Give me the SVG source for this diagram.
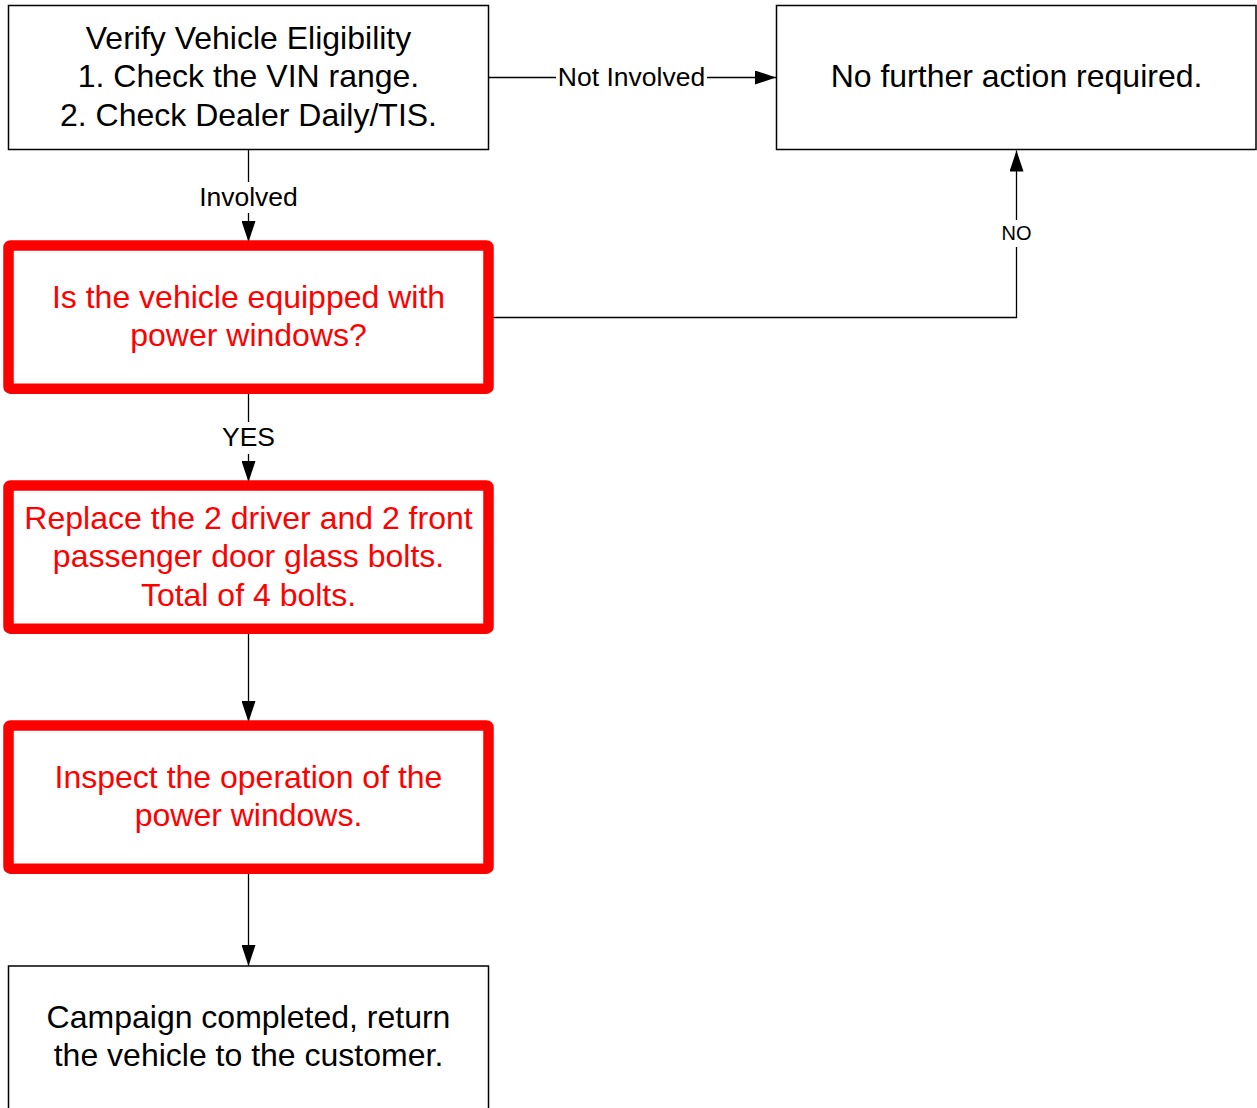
<svg xmlns="http://www.w3.org/2000/svg" width="1257" height="1108" viewBox="0 0 1257 1108">
  <defs>
    <marker id="arrow" markerUnits="userSpaceOnUse" markerWidth="21" markerHeight="14" refX="21" refY="7" orient="auto">
      <path d="M0,0 L21,7 L0,14 z" fill="#000"/>
    </marker>
    <style>
      .box { fill: #fff; stroke: #000; stroke-width: 1.5; }
      .rbox { fill: #fff; stroke: #FF0000; stroke-width: 10.5; stroke-linejoin: round; }
      .t { font-family: "Liberation Sans", Arial, sans-serif; font-size: 32px; text-anchor: middle; fill: #000; }
      .r { fill: #FF0000; }
      .lbl { font-family: "Liberation Sans", Arial, sans-serif; font-size: 26.5px; text-anchor: middle; fill: #000; }
      .conn { fill: none; stroke: #000; stroke-width: 1.3; }
      .bg { fill: #fff; stroke: none; }
    </style>
  </defs>
  <rect width="1257" height="1108" fill="#fff"/>

  <g id="connectors">
    <line class="conn" x1="248.5" y1="150" x2="248.5" y2="242" marker-end="url(#arrow)"/>
    <line class="conn" x1="489" y1="77.5" x2="776" y2="77.5" marker-end="url(#arrow)"/>
    <polyline class="conn" points="488.5,317.5 1016.5,317.5 1016.5,150.5" marker-end="url(#arrow)"/>
    <line class="conn" x1="248.5" y1="394" x2="248.5" y2="482" marker-end="url(#arrow)"/>
    <line class="conn" x1="248.5" y1="634" x2="248.5" y2="722" marker-end="url(#arrow)"/>
    <line class="conn" x1="248.5" y1="874" x2="248.5" y2="966" marker-end="url(#arrow)"/>
    <rect class="bg" x="196" y="182" width="105" height="31"/>
    <text class="lbl" x="248.5" y="205.5">Involved</text>
    <rect class="bg" x="556" y="64" width="151" height="27"/>
    <text class="lbl" x="631.5" y="86">Not Involved</text>
    <rect class="bg" x="1000" y="220" width="33" height="27"/>
    <text class="lbl" x="1016.5" y="240" style="font-size:20px">NO</text>
    <rect class="bg" x="214" y="422" width="69" height="32"/>
    <text class="lbl" x="248.5" y="446">YES</text>
  </g>

  <g id="verify">
    <rect class="box" x="8.5" y="5.5" width="480" height="144"/>
    <text class="t" x="248.5" y="48.5">Verify Vehicle Eligibility</text>
    <text class="t" x="248.5" y="87">1. Check the VIN range.</text>
    <text class="t" x="248.5" y="125.5">2. Check Dealer Daily/TIS.</text>
  </g>

  <g id="no-action">
    <rect class="box" x="776.5" y="5.5" width="479.5" height="144"/>
    <text class="t" x="1016.5" y="87">No further action required.</text>
  </g>

  <g id="power-windows-question">
    <rect class="rbox" x="8.5" y="245.5" width="480" height="143.2" rx="2"/>
    <text class="t r" x="248.5" y="307.5">Is the vehicle equipped with</text>
    <text class="t r" x="248.5" y="346">power windows?</text>
  </g>

  <g id="replace-bolts">
    <rect class="rbox" x="8.5" y="485.5" width="480" height="143.2" rx="2"/>
    <text class="t r" x="248.5" y="528.5">Replace the 2 driver and 2 front</text>
    <text class="t r" x="248.5" y="567">passenger door glass bolts.</text>
    <text class="t r" x="248.5" y="605.5">Total of 4 bolts.</text>
  </g>

  <g id="inspect">
    <rect class="rbox" x="8.5" y="725.5" width="480" height="143.2" rx="2"/>
    <text class="t r" x="248.5" y="787.5">Inspect the operation of the</text>
    <text class="t r" x="248.5" y="826">power windows.</text>
  </g>

  <g id="complete">
    <rect class="box" x="8.5" y="966" width="480" height="160"/>
    <text class="t" x="248.5" y="1027.5">Campaign completed, return</text>
    <text class="t" x="248.5" y="1066">the vehicle to the customer.</text>
  </g>
</svg>
